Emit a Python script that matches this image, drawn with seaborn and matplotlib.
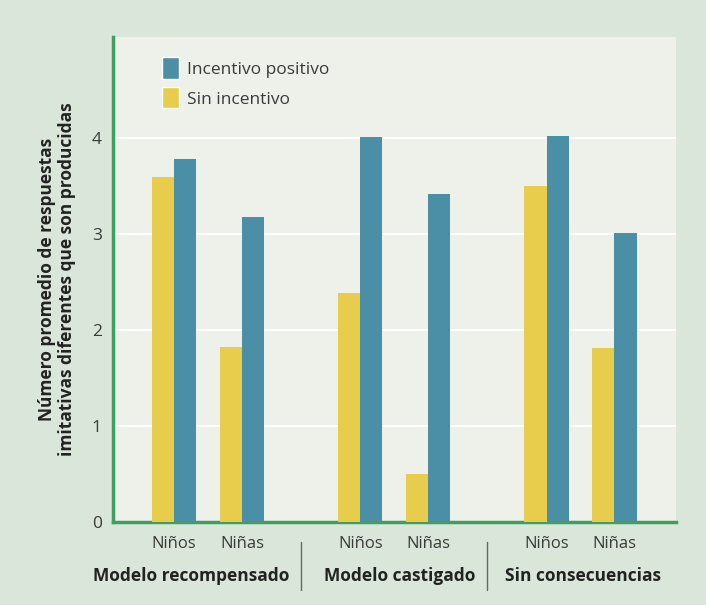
import pandas as pd
import matplotlib.pyplot as plt
import seaborn as sns
from matplotlib.patches import Patch
from matplotlib.lines import Line2D

# --- data ---
groups = ["Modelo recompensado", "Modelo castigado", "Sin consecuencias"]
sexes = ["Niños", "Niñas"]
sin_incentivo = [3.59, 1.82, 2.38, 0.50, 3.50, 1.81]
incentivo_positivo = [3.78, 3.18, 4.01, 3.41, 4.02, 3.01]
y_ticks = [0, 1, 2, 3, 4]
ylabel = "Número promedio de respuestas\nimitativas diferentes que son producidas"

# --- colours ---
yellow = "#e8cc4c"
blue = "#4b8fa7"
green = "#3f9e60"
panel_bg = "#edf1ea"
outer_bg = "#dae6d9"
text_col = "#3a3a3a"

# place pairs: one unit apart inside a group, a wider step between groups
group_step = 2.74
rows = []
for gi, g in enumerate(groups):
    for si, s in enumerate(sexes):
        k = gi * 2 + si
        pos = gi * group_step + si
        rows.append({"pos": pos, "grupo": g, "sexo": s,
                     "cond": "Sin incentivo", "valor": sin_incentivo[k]})
        rows.append({"pos": pos, "grupo": g, "sexo": s,
                     "cond": "Incentivo positivo", "valor": incentivo_positivo[k]})
df = pd.DataFrame(rows)
positions = sorted(df["pos"].unique())

sns.set_style("white")
plt.rcParams["font.family"] = ["Open Sans", "DejaVu Sans"]

fig = plt.figure(figsize=(7.06, 6.05), dpi=100)
fig.patch.set_facecolor(outer_bg)
ax = fig.add_axes([0.160, 0.137, 0.797, 0.802])
ax.set_facecolor(panel_bg)

sns.barplot(data=df, x="pos", y="valor", hue="cond",
            hue_order=["Sin incentivo", "Incentivo positivo"],
            palette={"Sin incentivo": yellow, "Incentivo positivo": blue},
            native_scale=True, width=0.65, saturation=1, linewidth=0,
            errorbar=None, legend=False, ax=ax, zorder=3)

ax.set_ylim(0, 5.05)
ax.set_xlim(-0.9, 7.38)
ax.set_yticks(y_ticks)
ax.set_yticklabels([str(t) for t in y_ticks], fontsize=12.5, color=text_col)
ax.grid(axis="y", color="white", linewidth=1.5, zorder=0)
ax.grid(axis="x", visible=False)

ax.set_xticks(positions)
ax.set_xticklabels(sexes * len(groups), fontsize=12, color=text_col)
ax.tick_params(axis="x", length=0, pad=10)
ax.tick_params(axis="y", length=0, pad=8)
ax.set_xlabel("")

ax.set_ylabel(ylabel, fontsize=12.5, fontweight="bold", color="#222222",
              linespacing=1.1)
ax.yaxis.set_label_coords(-0.066, 0.5)

for side in ["top", "right"]:
    ax.spines[side].set_visible(False)
for side in ["left", "bottom"]:
    ax.spines[side].set_color(green)
    ax.spines[side].set_linewidth(2.5)

# group labels under the pairs (first one sits a bit to the left)
label_shift = [-0.25, 0.08, 0.04]
for gi, g in enumerate(groups):
    xc = gi * group_step + 0.5 + label_shift[gi]
    ax.text(xc, -0.111, g, transform=ax.get_xaxis_transform(),
            ha="center", va="center", fontsize=12.5, fontweight="bold",
            color="#222222")

# separators between groups
for gi in range(len(groups) - 1):
    xs = (gi * group_step + 1 + (gi + 1) * group_step) / 2
    ax.add_line(Line2D([xs, xs], [-0.04, -0.14],
                       transform=ax.get_xaxis_transform(),
                       color="#666666", linewidth=1, clip_on=False))

handles = [Patch(facecolor=blue, label="Incentivo positivo"),
           Patch(facecolor=yellow, label="Sin incentivo")]
ax.legend(handles=handles, loc="upper left", bbox_to_anchor=(0.06, 0.99),
          frameon=False, fontsize=12.5, handlelength=0.95, handleheight=1.5,
          handletextpad=0.45, labelspacing=0.5, labelcolor=text_col)

fig.savefig("out.png", dpi=100, facecolor=fig.get_facecolor())
